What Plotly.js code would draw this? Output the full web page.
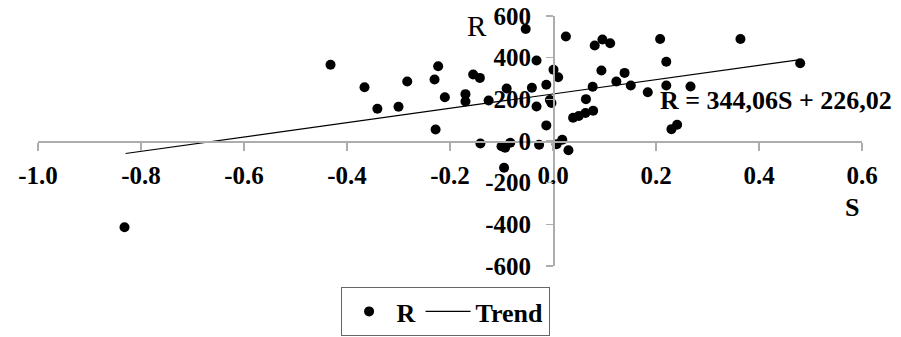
<!DOCTYPE html>
<html>
<head>
<meta charset="utf-8">
<script src="https://cdn.plot.ly/plotly-3.0.1.min.js"></script>
<style>html,body{margin:0;padding:0;background:#fff;}#chart{width:901px;height:337px;}</style>
</head>
<body>
<div id="chart"></div>
<script>
// Scatter points
const sValues = [-0.832,-0.432,-0.366,-0.341,-0.300,-0.283,-0.230,-0.223,-0.210,-0.228,
  -0.170,-0.170,-0.155,-0.142,-0.125,-0.141,-0.100,-0.093,-0.083,-0.095,
  -0.090,-0.053,-0.032,-0.041,-0.032,-0.013,-0.013,-0.027,-0.006,-0.003,
  0.001,0.010,0.007,0.018,0.030,0.025,0.039,0.050,0.063,0.078,
  0.064,0.077,0.081,0.096,0.111,0.094,0.123,0.139,0.151,0.184,
  0.208,0.220,0.220,0.267,0.230,0.241,0.364,0.480];
const rValues = [-414,366,258,155,164,286,295,359,210,55,
  225,190,319,303,194,-12,-25,-32,-8,-128,
  252,538,386,256,166,270,75,-18,197,182,
  342,306,-15,6,-44,502,112,120,134,145,
  201,260,458,487,469,338,286,327,266,234,
  490,380,266,262,57,78,490,373];
// Trend line endpoints
const trendS = [-0.83, 0.48];
const trendR = [-60, 391];
const xTicks = [-1.0,-0.8,-0.6,-0.4,-0.2,0.0,0.2,0.4,0.6];
const xTickText = ['-1.0','-0.8','-0.6','-0.4','-0.2','0.0','0.2','0.4','0.6'];
const yTicks = [-600,-400,-200,0,200,400,600];
const yTickText = ['-600','-400','-200','0','200','400','600'];
const equationText = 'R = 344,06S + 226,02';

const serif = 'Liberation Serif';
const axisColor = '#adadad';

const traces = [
  {x: sValues, y: rValues, type: 'scatter', mode: 'markers', name: 'R',
   marker: {color: '#000', size: 10}},
  {x: trendS, y: trendR, type: 'scatter', mode: 'lines', name: 'Trend',
   line: {color: '#000', width: 1.2}}
];

const layout = {
  width: 901, height: 337,
  margin: {l: 38, r: 39, t: 16, b: 71, pad: 0},
  paper_bgcolor: '#fff', plot_bgcolor: '#fff',
  showlegend: true,
  xaxis: {range: [-1, 0.6], anchor: 'free', position: 0.5,
    tickvals: xTicks, ticktext: xTickText,
    showgrid: false, zeroline: false, showline: true,
    linecolor: axisColor, linewidth: 1.5,
    ticks: 'outside', ticklen: 8, tickcolor: axisColor, tickwidth: 1.5,
    ticklabelstandoff: 3,
    tickfont: {family: serif, size: 25, color: '#000', weight: 700}},
  yaxis: {range: [-600, 600], anchor: 'free', position: 0.625,
    tickvals: yTicks, ticktext: yTickText,
    showgrid: false, zeroline: false, showline: true,
    linecolor: axisColor, linewidth: 1.5,
    ticks: 'outside', ticklen: 7, tickcolor: axisColor, tickwidth: 1.5,
    ticklabelstandoff: 10,
    tickfont: {family: serif, size: 25, color: '#000', weight: 700}},
  legend: {orientation: 'h', xref: 'container', yref: 'container',
    x: 0.378, xanchor: 'left', y: 0.003, yanchor: 'bottom',
    itemwidth: 45,
    bordercolor: '#666', borderwidth: 1, bgcolor: '#fff',
    font: {family: serif, size: 26, color: '#000', weight: 700}},
  annotations: [
    {x: 0.433, y: 194, xref: 'x', yref: 'y', text: equationText, showarrow: false,
     font: {family: serif, size: 26, color: '#000', weight: 700}},
    {x: -0.147, y: 554, xref: 'x', yref: 'y', text: 'R', showarrow: false,
     font: {family: serif, size: 29, color: '#000'}},
    {x: 0.58, y: -319, xref: 'x', yref: 'y', text: 'S', showarrow: false,
     font: {family: serif, size: 26, color: '#000', weight: 700}}
  ]
};

Plotly.newPlot('chart', traces, layout, {staticPlot: true, displayModeBar: false});
</script>
</body>
</html>
